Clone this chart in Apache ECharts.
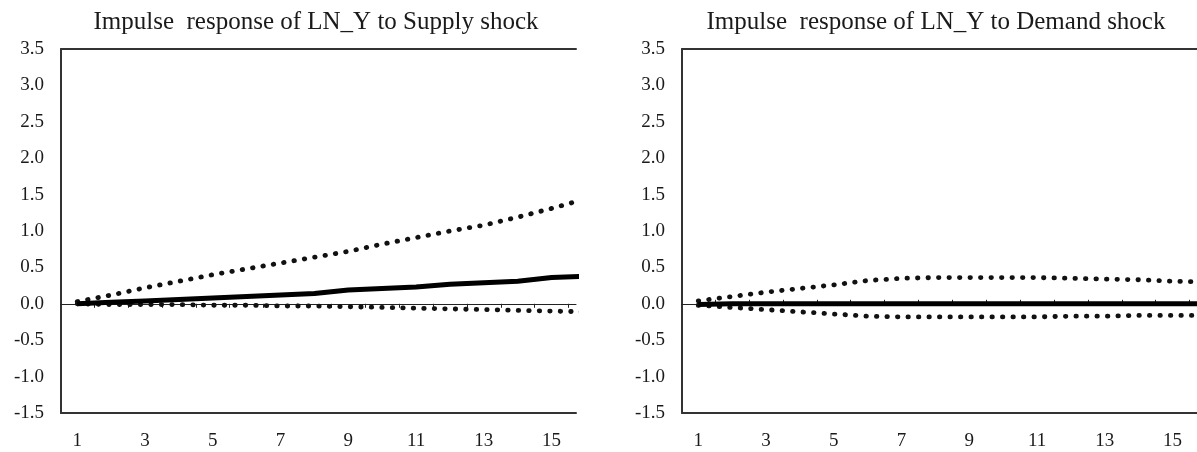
<!DOCTYPE html>
<html>
<head>
<meta charset="utf-8">
<script src="https://cdn.jsdelivr.net/npm/echarts@6/dist/echarts.min.js"></script>
<style>
  html, body { margin: 0; padding: 0; background: #fff; }
  #main { width: 1197px; height: 452px; }
</style>
</head>
<body>
<div id="main"></div>
<script>
// Periods (horizon)
var periods = [1, 2, 3, 4, 5, 6, 7, 8, 9, 10, 11, 12, 13, 14, 15, 16];

// Response of LN_Y to supply shock, with +/- 2 S.E. bands
var supplyResp  = [0.00, 0.02, 0.04, 0.06, 0.08, 0.10, 0.12, 0.14, 0.19, 0.21, 0.23, 0.27, 0.29, 0.31, 0.36, 0.38];
var supplyUpper = [0.03, 0.12, 0.22, 0.31, 0.40, 0.48, 0.56, 0.64, 0.72, 0.82, 0.91, 1.00, 1.08, 1.19, 1.31, 1.44];
var supplyLower = [0.00, -0.01, -0.01, -0.01, -0.02, -0.02, -0.03, -0.03, -0.04, -0.05, -0.06, -0.07, -0.08, -0.09, -0.10, -0.11];

// Response of LN_Y to demand shock, with +/- 2 S.E. bands
var demandResp  = [-0.01, 0.00, 0.00, 0.00, 0.00, 0.00, 0.00, 0.00, 0.00, 0.00, 0.00, 0.00, 0.00, 0.00, 0.00, 0.00];
var demandUpper = [0.04, 0.10, 0.16, 0.21, 0.26, 0.32, 0.35, 0.36, 0.36, 0.36, 0.36, 0.35, 0.34, 0.33, 0.31, 0.30];
var demandLower = [-0.02, -0.05, -0.08, -0.11, -0.14, -0.17, -0.18, -0.18, -0.18, -0.18, -0.18, -0.17, -0.17, -0.16, -0.16, -0.16];

var xLabels = [1, 3, 5, 7, 9, 11, 13, 15];
var zeroTicks = [1.5, 2.5, 3.5, 4.5, 5.5, 6.5, 7.5, 8.5, 9.5, 10.5, 11.5, 12.5, 13.5, 14.5, 15.5];

var titles = ['Impulse  response of LN_Y to Supply shock', 'Impulse  response of LN_Y to Demand shock'];

var font = 'Liberation Serif';
var ink = '#1a1a1a';

function pairs(vals) {
  return periods.map(function (p, i) { return [p, vals[i]]; });
}

var grids = [
  { left: 61, width: 515, top: 49, height: 364 },
  { left: 682, width: 515, top: 49, height: 364 }
];

var xAxes = [];
var yAxes = [];
var series = [];

[0, 1].forEach(function (g) {
  // bottom axis with labels
  xAxes.push({
    type: 'value', gridIndex: g, min: 0.52, max: 15.72, position: 'bottom',
    axisLine: { show: true, onZero: false, lineStyle: { color: '#333', width: 2 } },
    axisTick: { show: false },
    splitLine: { show: false },
    axisLabel: { customValues: xLabels, fontFamily: font, fontSize: 19, color: ink, margin: 19 }
  });
  // top frame line
  xAxes.push({
    type: 'value', gridIndex: g, min: 0.52, max: 15.72, position: 'top',
    axisLine: { show: true, onZero: false, lineStyle: { color: '#333', width: 2 } },
    axisTick: { show: false }, axisLabel: { show: false }, splitLine: { show: false }
  });
  // zero line with small ticks between periods
  xAxes.push({
    type: 'value', gridIndex: g, min: 0.52, max: 15.72, position: 'bottom',
    axisLine: { show: true, onZero: true, lineStyle: { color: '#222', width: 1 } },
    axisTick: { show: true, customValues: zeroTicks, inside: g === 1, length: 4, lineStyle: { color: '#222', width: 1 } },
    axisLabel: { show: false }, splitLine: { show: false }
  });
  yAxes.push({
    type: 'value', gridIndex: g, min: -1.5, max: 3.5, interval: 0.5,
    axisLine: { show: true, lineStyle: { color: '#333', width: 2 } },
    axisTick: { show: false },
    splitLine: { show: false },
    axisLabel: {
      fontFamily: font, fontSize: 19, color: ink, margin: 17,
      formatter: function (v) { return v.toFixed(1); }
    }
  });
});

var panels = [
  [supplyResp, supplyUpper, supplyLower],
  [demandResp, demandUpper, demandLower]
];

panels.forEach(function (set, g) {
  var xi = g * 3;
  series.push({
    type: 'line', xAxisIndex: xi, yAxisIndex: g, data: pairs(set[1]),
    symbol: 'none', lineStyle: { color: '#111', width: 4.8, type: [0.5, 10], cap: 'round' }, z: 3
  });
  series.push({
    type: 'line', xAxisIndex: xi, yAxisIndex: g, data: pairs(set[2]),
    symbol: 'none', lineStyle: { color: '#111', width: 4.8, type: [0.5, 10], cap: 'round' }, z: 3
  });
  series.push({
    type: 'line', xAxisIndex: xi, yAxisIndex: g, data: pairs(set[0]),
    symbol: 'none', lineStyle: { color: '#000', width: 5 }, z: 4
  });
});

var chart = echarts.init(document.getElementById('main'), null, { renderer: 'canvas' });
chart.setOption({
  animation: false,
  backgroundColor: '#fff',
  title: [
    { text: titles[0], left: 311, top: 5, textAlign: 'center',
      textStyle: { fontFamily: font, fontSize: 25, fontWeight: 'normal', color: ink } },
    { text: titles[1], left: 931, top: 5, textAlign: 'center',
      textStyle: { fontFamily: font, fontSize: 25, fontWeight: 'normal', color: ink } }
  ],
  grid: grids,
  xAxis: xAxes,
  yAxis: yAxes,
  series: series
});
</script>
</body>
</html>
